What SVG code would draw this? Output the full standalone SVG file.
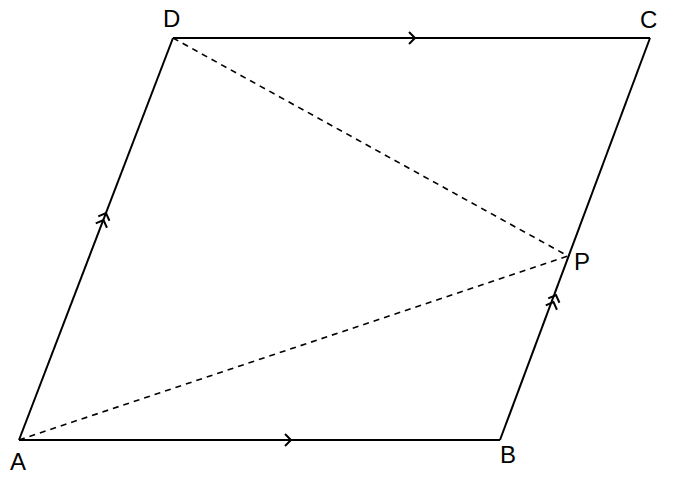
<svg xmlns="http://www.w3.org/2000/svg" width="675" height="486" viewBox="0 0 675 486">
<style>
.edge{stroke:#000;stroke-width:2;fill:none}
.dash{stroke:#000;stroke-width:1.6;fill:none;stroke-dasharray:6,5}
.chev{stroke:#000;stroke-width:2;fill:none;stroke-linejoin:miter}
.lbl{font-family:"Liberation Sans",Arial,sans-serif;font-size:24px;fill:#000}
</style>
<defs>
<path id="ch" d="M-6,-6 L0,0 L-6,6" class="chev"/>
</defs>
<rect width="675" height="486" fill="#fff"/>
<g id="connectors">
<path class="edge" d="M19,440 L500,440"/>
<path class="edge" d="M500,440 L650,38"/>
<path class="edge" d="M173,38 L650,38"/>
<path class="edge" d="M19,440 L173,38"/>
<path class="dash" d="M173,38 L568,256"/>
<path class="dash" d="M19,440 L568,256"/>
<use href="#ch" transform="translate(415,38)"/>
<use href="#ch" transform="translate(291,440)"/>
<use href="#ch" transform="translate(106,213) rotate(-69)"/>
<use href="#ch" transform="translate(103.5,220) rotate(-69)"/>
<use href="#ch" transform="translate(556,295) rotate(-69)"/>
<use href="#ch" transform="translate(553.5,302) rotate(-69)"/>
</g>
<g id="A"><text class="lbl" x="10" y="470">A</text></g>
<g id="B"><text class="lbl" x="500" y="463">B</text></g>
<g id="C"><text class="lbl" x="640" y="28">C</text></g>
<g id="D"><text class="lbl" x="163" y="27">D</text></g>
<g id="P"><text class="lbl" x="574" y="270">P</text></g>
</svg>
